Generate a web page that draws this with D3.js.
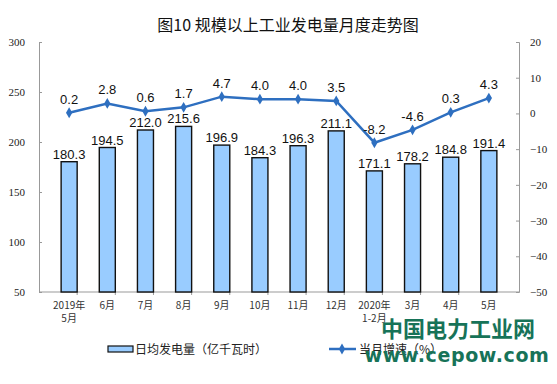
<!doctype html>
<html>
<head>
<meta charset="utf-8">
<title>规模以上工业发电量月度走势图</title>
<style>
  body { margin: 0; background: #fff; }
  text { font-family: Arial, "Liberation Sans", "Noto Sans CJK SC", sans-serif; }
  .tick-serif text { font-family: "Liberation Serif", "DejaVu Serif", serif; font-size: 11px; fill: #222; }
  .cat text { font-family: "Noto Sans CJK SC", sans-serif; font-size: 10px; fill: #333; }
</style>
<script src="https://cdn.jsdelivr.net/npm/d3@7"></script>
</head>
<body>
<script>
// categories (two-line labels)
var months = ["2019年\n5月", "6月", "7月", "8月", "9月", "10月", "11月", "12月", "2020年\n1-2月", "3月", "4月", "5月"];
// daily average generation, 100 million kWh
var dailyGen = [180.3, 194.5, 212.0, 215.6, 196.9, 184.3, 196.3, 211.1, 171.1, 178.2, 184.8, 191.4];
// monthly growth, %
var growth = [0.2, 2.8, 0.6, 1.7, 4.7, 4.0, 4.0, 3.5, -8.2, -4.6, 0.3, 4.3];
var leftTicks = [50, 100, 150, 200, 250, 300];
var rightTicks = [20, 10, 0, -10, -20, -30, -40, -50];

var W = 557, H = 384;
var margin = {top: 42, right: 38, bottom: 92, left: 39};
var innerW = W - margin.left - margin.right,
    innerH = H - margin.top - margin.bottom;

var svg = d3.select("body").append("svg")
    .attr("width", W).attr("height", H);

// title
svg.append("text")
    .attr("x", 288).attr("y", 31)
    .attr("text-anchor", "middle")
    .style("font-family", "'Noto Sans CJK SC', sans-serif")
    .style("font-size", "16px")
    .attr("fill", "#111")
    .text("图10  规模以上工业发电量月度走势图");

var g = svg.append("g")
    .attr("transform", "translate(" + margin.left + "," + margin.top + ")");

var x = d3.scaleBand().domain(d3.range(months.length)).range([0, innerW]).padding(0.58);
var yL = d3.scaleLinear().domain([50, 300]).range([innerH, 0]);
var yR = d3.scaleLinear().domain([-50, 20]).range([innerH, 0]);

// left axis
var axL = g.append("g").attr("class", "tick-serif")
    .call(d3.axisLeft(yL).tickValues(leftTicks).tickSize(-3).tickPadding(14));
axL.select(".domain").attr("stroke", "#999");
axL.selectAll(".tick line").attr("stroke", "#999");

// right axis
var axR = g.append("g").attr("class", "tick-serif")
    .attr("transform", "translate(" + innerW + ",0)")
    .call(d3.axisRight(yR).tickValues(rightTicks).tickSize(-3).tickPadding(11));
axR.select(".domain").attr("stroke", "#999");
axR.selectAll(".tick line").attr("stroke", "#999");

// bottom axis line and small boundary ticks
g.append("line").attr("x1", 0).attr("x2", innerW)
    .attr("y1", innerH).attr("y2", innerH).attr("stroke", "#999");
g.selectAll(".btick").data(d3.range(1, months.length))
  .enter().append("line")
    .attr("x1", function(i) { return i * x.step(); })
    .attr("x2", function(i) { return i * x.step(); })
    .attr("y1", innerH).attr("y2", innerH + 3)
    .attr("stroke", "#999");

// category labels
var cat = g.append("g").attr("class", "cat");
months.forEach(function(m, i) {
  var cxm = x(i) + x.bandwidth() / 2;
  m.split("\n").forEach(function(line, k) {
    cat.append("text")
      .attr("x", cxm)
      .attr("y", innerH + 17 + k * 13)
      .attr("text-anchor", "middle")
      .text(line);
  });
});

// bars
g.selectAll(".bar").data(dailyGen)
  .enter().append("rect")
    .attr("x", function(d, i) { return x(i); })
    .attr("y", function(d) { return yL(d); })
    .attr("width", x.bandwidth())
    .attr("height", function(d) { return innerH - yL(d); })
    .attr("fill", "#99ccff")
    .attr("stroke", "#111")
    .attr("stroke-width", 1.4);

g.selectAll(".barlabel").data(dailyGen)
  .enter().append("text")
    .attr("x", function(d, i) { return x(i) + x.bandwidth() / 2; })
    .attr("y", function(d) { return yL(d) - 3; })
    .attr("text-anchor", "middle")
    .style("font-size", "13px")
    .attr("fill", "#111")
    .text(function(d) { return d.toFixed(1); });

// growth line
var cx = function(d, i) { return x(i) + x.bandwidth() / 2; };
var line = d3.line().x(cx).y(function(d) { return yR(d); });
g.append("path").datum(growth)
    .attr("d", line)
    .attr("fill", "none")
    .attr("stroke", "#2e6fc0")
    .attr("stroke-width", 2.5);

var diamond = d3.symbol().type(d3.symbolDiamond).size(34);
g.selectAll(".pt").data(growth)
  .enter().append("path")
    .attr("d", diamond)
    .attr("transform", function(d, i) { return "translate(" + cx(d, i) + "," + yR(d) + ")"; })
    .attr("fill", "#2e6fc0");

g.selectAll(".ptlabel").data(growth)
  .enter().append("text")
    .attr("x", cx)
    .attr("y", function(d) { return yR(d) - 9; })
    .attr("text-anchor", "middle")
    .style("font-size", "13px")
    .attr("fill", "#111")
    .text(function(d) { return d.toFixed(1); });

// legend
var lg = svg.append("g").attr("transform", "translate(0,349)");
lg.append("rect").attr("x", 108).attr("y", -3).attr("width", 25).attr("height", 6)
    .attr("fill", "#99ccff").attr("stroke", "#111").attr("stroke-width", 1.2);
lg.append("text").attr("x", 135).attr("y", 5)
    .style("font-family", "'Noto Sans CJK SC', sans-serif").style("font-size", "12px")
    .attr("fill", "#222").text("日均发电量（亿千瓦时）");
lg.append("line").attr("x1", 329).attr("x2", 356).attr("y1", 0).attr("y2", 0)
    .attr("stroke", "#2e6fc0").attr("stroke-width", 2.5);
lg.append("path").attr("d", diamond).attr("transform", "translate(342,0)").attr("fill", "#2e6fc0");
lg.append("text").attr("x", 359).attr("y", 5)
    .style("font-family", "'Noto Sans CJK SC', sans-serif").style("font-size", "12px")
    .attr("fill", "#222").text("当月增速（%）");

// watermark
svg.append("text").attr("x", 458).attr("y", 337).attr("text-anchor", "middle")
    .style("font-family", "'Noto Sans CJK SC', sans-serif").style("font-size", "22px")
    .style("font-weight", "bold").attr("fill", "#177358")
    .text("中国电力工业网");
svg.append("text").attr("x", 457).attr("y", 362).attr("text-anchor", "middle")
    .style("font-family", "'DejaVu Sans', sans-serif").style("font-size", "19px")
    .style("font-weight", "bold").style("letter-spacing", "0.6px").attr("fill", "#177358")
    .text("www.cepow.com");
</script>
</body>
</html>
